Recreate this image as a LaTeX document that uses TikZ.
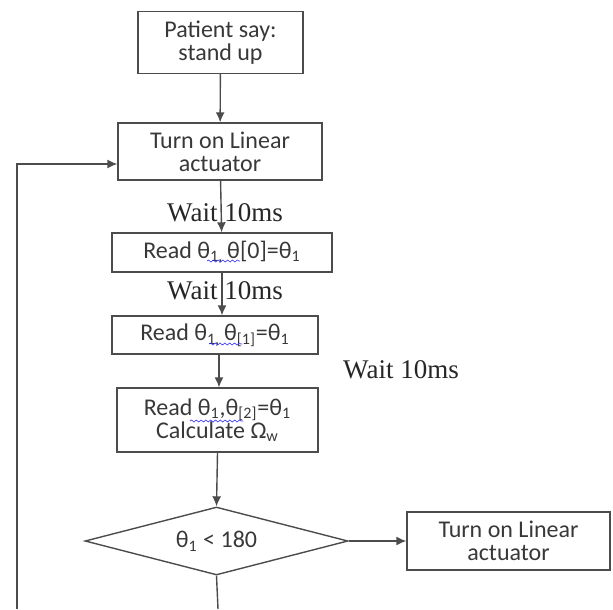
\documentclass[tikz,border=0pt]{standalone}
\usepackage{fontspec}
\setmainfont{Carlito}
\newfontfamily\waitfont{Liberation Serif}
\usetikzlibrary{shapes.geometric,arrows.meta,decorations.pathmorphing}

\tikzset{
  box/.style={draw=black!70,line width=0.7pt,text=black!78,align=center,
    inner sep=0pt,font=\fontsize{12}{11.5}\selectfont},
  decision/.style={box,diamond,aspect=3.8},
  wait/.style={text=black!85,font=\waitfont\fontsize{13.5}{13.5}\selectfont,inner sep=0pt},
  squiggle/.style={blue!80,line width=0.3pt,decorate,
    decoration={snake,amplitude=0.5pt,segment length=2.4pt}}
}

\begin{document}
\begin{tikzpicture}[x=0.5pt,y=-0.5pt,>={Latex[length=5pt,width=4.5pt]},line width=0.7pt,draw=black!70]
    \useasboundingbox (0,0) rectangle (613,609);

    % boxes of the flow
    \node[box,minimum width=82.5pt,minimum height=31pt] (say) at (220.5,42.5) {Patient say:\\stand up};
    \node[box,minimum width=102pt,minimum height=28.5pt] (act) at (220,151.5) {Turn on Linear\\actuator};
    \node[box,minimum width=110pt,minimum height=19.5pt] (read0) at (222,252.5)
        {Read θ\textsubscript{1,}\,θ[0]=θ\textsubscript{1}};
    \node[box,minimum width=103pt,minimum height=19pt] (read1) at (215,335)
        {Read θ\textsubscript{1,}\,θ\textsubscript{[1]}=θ\textsubscript{1}};
    \node[box,minimum width=100.5pt,minimum height=32pt] (read2) at (217.5,420)
        {Read θ\textsubscript{1},θ\textsubscript{[2]}=θ\textsubscript{1}\\Calculate Ω\textsubscript{w}};
    \node[decision,minimum width=131.5pt,minimum height=34pt] (check) at (216.5,541) {θ\textsubscript{1} < 180};
    \node[box,minimum width=101.5pt,minimum height=29pt] (act2) at (508.5,541) {Turn on Linear\\actuator};

    % waiting times
    \node[wait] (w1) at (225,213) {Wait 10ms};
    \node[wait] (w2) at (225,291) {Wait 10ms};
    \node[wait] (w3) at (401,370) {Wait 10ms};

    \coordinate (out) at (218,609);
    \coordinate (back) at (17,609);

    % connectors
    \draw[->] (say) -- (act);
    \draw[->] (act) -- (read0);
    \draw[->] (read0.south) -- (read0.south |- read1.north);
    \draw[->] ([xshift=2pt]read1.south) -- ([xshift=2pt]read1.south |- read2.north);
    \draw[->] (read2.south) -- (check.north);
    \draw[->] (check) -- (act2);
    \draw (check.south) -- (out);
    \draw[->] (back) |- ([yshift=-6.25pt]act.west);

    % spell check marks
    \draw[squiggle] (207,261) -- (240,261);
    \draw[squiggle] (209,344) -- (242,344);
    \draw[squiggle] (190,421) -- (243,421);
\end{tikzpicture}
\end{document}
